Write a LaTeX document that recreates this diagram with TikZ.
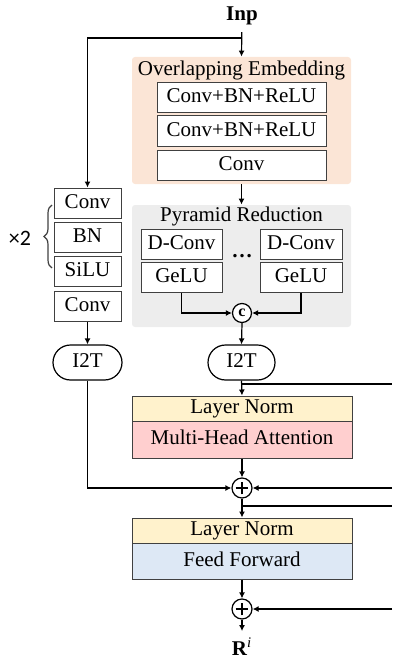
\documentclass[tikz,border=0pt]{standalone}
\usepackage{fontspec}
\setmainfont{Liberation Serif}
\newfontfamily\labelsans{Carlito}
\usetikzlibrary{arrows.meta,decorations.pathreplacing,shapes.misc}
\definecolor{edgegray}{HTML}{404040}
\definecolor{embbg}{HTML}{FBE5D6}
\definecolor{pyrbg}{HTML}{EDEDED}
\definecolor{lnfill}{HTML}{FFF2CC}
\definecolor{mhafill}{HTML}{FFCFCF}
\definecolor{fffill}{HTML}{DDE8F5}
\begin{document}
\begin{tikzpicture}[x=0.5pt,y=-0.5pt,
  font=\fontsize{10.5}{12}\selectfont,
  blk/.style={draw=edgegray, line width=0.5pt, fill=white, inner sep=0pt,
    minimum width=#1, minimum height=15pt, text height=7pt, text depth=2pt},
  group/.style={fill=#1, draw=none, rounded corners=1.5pt, inner sep=0pt,
    minimum width=109.5pt},
  pill/.style={draw=black, line width=0.6pt, fill=white, rounded rectangle,
    inner sep=0pt, minimum width=#1, minimum height=17.5pt,
    text height=7pt, text depth=2pt},
  op/.style={draw=black, line width=0.6pt, fill=white, circle, inner sep=0pt,
    minimum size=10pt},
  addop/.style={op, path picture={
    \draw[line width=0.75pt] ([xshift=-3.2pt]path picture bounding box.center)
      -- ([xshift=3.2pt]path picture bounding box.center);
    \draw[line width=0.75pt] ([yshift=-3.2pt]path picture bounding box.center)
      -- ([yshift=3.2pt]path picture bounding box.center);}},
  wire/.style={line width=0.6pt},
  arr/.style={wire, -{Latex[length=3pt,width=3pt]}}]
\useasboundingbox (0,0) rectangle (392,658);

% input and output labels
\node (inp) at (242,16) {\textbf{Inp}};
\node (ri) at (242,647) {\textbf{R}\textsuperscript{\itshape i}};

% overlapping embedding block
\node[group=embbg, minimum height=63.5pt] (emb) at (241.5,120.5) {};
\node (embtitle) at (241.5,70) {Overlapping Embedding};
\node[blk=84.5pt] (oe1) at (241.5,97.5) {Conv+BN+ReLU};
\node[blk=84.5pt] (oe2) at (241.5,131) {Conv+BN+ReLU};
\node[blk=84.5pt] (oe3) at (241.5,165) {Conv};

% pyramid reduction block
\node[group=pyrbg, minimum height=61pt] (pyr) at (241.5,266) {};
\node (pyrtitle) at (241.5,216) {Pyramid Reduction};
\node[blk=40.5pt] (dc1) at (181.5,244) {D-Conv};
\node[blk=40.5pt] (gl1) at (181.5,277.5) {GeLU};
\node[blk=41pt] (dc2) at (301,244) {D-Conv};
\node[blk=41pt] (gl2) at (301,277.5) {GeLU};
\node (dots) at (242,256) {\textbf{\dots}};
\node[op, minimum size=9.5pt] (cat) at (242,313)
  {\fontsize{8}{8}\selectfont\textbf{c}};

% convolutional branch
\node[blk=33.5pt] (cv1) at (87.5,203) {Conv};
\node[blk=33.5pt] (bn) at (87.5,237.5) {BN};
\node[blk=33.5pt] (silu) at (87.5,271.5) {SiLU};
\node[blk=33.5pt] (cv2) at (87.5,306) {Conv};
\draw[edgegray, line width=0.6pt, decorate,
  decoration={brace, amplitude=4pt}] (52,268) -- (52,205) coordinate (bracetop);
\node[font=\labelsans\fontsize{11}{12}\selectfont] (rep) at (20,238) {×2};

% image-to-token
\node[pill=34.5pt] (i2tl) at (87.5,362.5) {I2T};
\node[pill=33.5pt] (i2tr) at (241.5,362.5) {I2T};

% transformer layers
\node[blk=110pt, fill=lnfill, minimum height=12.5pt] (ln1) at (242,408.5) {Layer Norm};
\node[blk=110pt, fill=mhafill, minimum height=18.5pt] (mha) at (242,439.5) {Multi-Head Attention};
\node[addop] (add1) at (242,488) {};
\node[blk=110pt, fill=lnfill, minimum height=12.5pt] (ln2) at (242,530.5) {Layer Norm};
\node[blk=110pt, fill=fffill, minimum height=18pt] (ff) at (242,561) {Feed Forward};
\node[addop] (add2) at (242,609) {};

% taps and side connections
\coordinate (split) at (242,38);
\coordinate (tap1) at (242,384);
\coordinate (tap1r) at (392,384);
\coordinate (in1r) at (392,488);
\coordinate (tap2) at (242,506);
\coordinate (tap2r) at (392,506);
\coordinate (in2r) at (392,609);

% connectors
\draw[arr] (inp) -- (emb.north);
\draw[arr] (split) -| (cv1.north);
\draw[arr] (emb.south) -- (pyr.north);
\draw[arr] (gl1.south) |- (cat.west);
\draw[arr] (gl2.south) |- (cat.east);
\draw[arr] (cat.south) -- (i2tr.north);
\draw[arr] (cv2.south) -- (i2tl.north);
\draw[arr] (i2tr.south) -- (ln1.north);
\draw[wire] (tap1) -- (tap1r);
\draw[arr] (i2tl.south) |- (add1.west);
\draw[arr] (in1r) -- (add1.east);
\draw[arr] (mha.south) -- (add1.north);
\draw[arr] (add1.south) -- (ln2.north);
\draw[wire] (tap2) -- (tap2r);
\draw[arr] (ff.south) -- (add2.north);
\draw[arr] (in2r) -- (add2.east);
\draw[arr] (add2.south) -- (ri.north);
\end{tikzpicture}
\end{document}
